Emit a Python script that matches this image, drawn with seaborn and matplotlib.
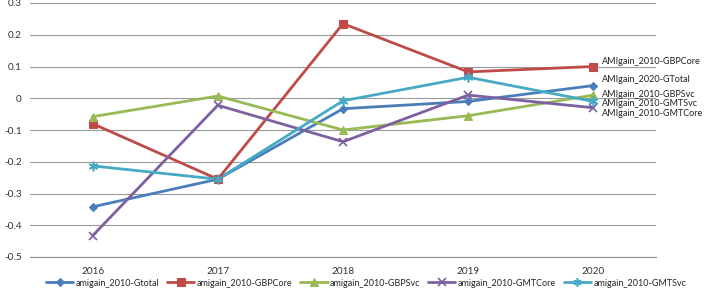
import matplotlib
matplotlib.use("Agg")
import matplotlib.pyplot as plt
import seaborn as sns
import pandas as pd
import numpy as np

years = ["2016", "2017", "2018", "2019", "2020"]
series_names = ["amigain_2010-Gtotal", "amigain_2010-GBPCore", "amigain_2010-GBPSvc",
                "amigain_2010-GMTCore", "amigain_2010-GMTSvc"]
gtotal = [-0.342, -0.255, -0.033, -0.010, 0.040]
gbpcore = [-0.080, -0.255, 0.235, 0.083, 0.100]
gbpsvc = [-0.058, 0.007, -0.100, -0.055, 0.010]
gmtcore = [-0.433, -0.022, -0.137, 0.010, -0.030]
gmtsvc = [-0.213, -0.255, -0.008, 0.066, -0.010]
end_labels = ["AMIgain_2020-GTotal", "AMIgain_2010-GBPCore", "AMIgain_2010-GBPSvc",
              "AMIgain_2010-GMTCore", "AMIgain_2010-GMTSvc"]
y_ticks = [0.3, 0.2, 0.1, 0, -0.1, -0.2, -0.3, -0.4, -0.5]

values = [gtotal, gbpcore, gbpsvc, gmtcore, gmtsvc]
rows = []
for name, vals in zip(series_names, values):
    for i, (yr, v) in enumerate(zip(years, vals)):
        rows.append({"pos": i, "year": yr, "value": v, "series": name})
df = pd.DataFrame(rows)

colors = ["#4A7EBB", "#BE4B48", "#98B954", "#7D60A0", "#46AAC5"]
markers = ["D", "s", "^", "x", (6, 2, 0)]
msizes = [4.5, 6, 6, 6, 7]

sns.set_style("white")
plt.rcParams["font.family"] = ["Lato", "DejaVu Sans"]

fig = plt.figure(figsize=(7.07, 2.97), dpi=100)
ax = fig.add_axes([30 / 707, 40 / 297, 626 / 707, 254 / 297])

palette = dict(zip(series_names, colors))
sns.lineplot(data=df, x="pos", y="value", hue="series", hue_order=series_names,
             palette=palette, linewidth=2, ax=ax, legend=False, sort=False)
for name, c, m, ms in zip(series_names, colors, markers, msizes):
    sub = df[df["series"] == name]
    mew = 1.2 if (m == "x" or isinstance(m, tuple)) else 0.8
    ax.plot(sub["pos"], sub["value"], linestyle="none", marker=m, markersize=ms,
            color=c, markeredgecolor=c, markeredgewidth=mew)

ax.set_xlim(-0.5, 4.5)
ax.set_ylim(-0.5, 0.3)
ax.set_yticks(y_ticks)
ax.set_yticklabels([("%g" % t) for t in y_ticks])
ax.set_xticks(range(len(years)))
ax.set_xticklabels(years)
ax.set_xticks(np.arange(-0.5, 4.6, 1), minor=True)
ax.tick_params(axis="x", which="major", length=0, pad=7, labelsize=7.2, colors="#333333")
ax.tick_params(axis="x", which="minor", length=4, color="#8c8c8c", width=0.8, direction="out")
ax.tick_params(axis="y", length=0, pad=6, labelsize=7.2, colors="#333333")
ax.set_xlabel("")
ax.set_ylabel("")
ax.yaxis.grid(True, color="#9a9a9a", linewidth=0.8)
ax.set_axisbelow(True)
for s in ["left", "right", "top"]:
    ax.spines[s].set_visible(False)
ax.spines["bottom"].set_color("#8c8c8c")
ax.spines["bottom"].set_linewidth(0.8)

label_y = {"AMIgain_2010-GBPCore": 0.117, "AMIgain_2020-GTotal": 0.060,
           "AMIgain_2010-GBPSvc": 0.013, "AMIgain_2010-GMTSvc": -0.016,
           "AMIgain_2010-GMTCore": -0.047}
for lab in end_labels:
    ax.text(4.07, label_y[lab], lab, fontsize=6.5, color="#222222",
            va="center", ha="left", clip_on=False)

handles = [plt.Line2D([0], [0], color=c, linewidth=2, marker=m, markersize=ms * 0.85,
                      markeredgewidth=1.2 if (m == "x" or isinstance(m, tuple)) else 0.8)
           for c, m, ms in zip(colors, markers, msizes)]
fig.legend(handles, series_names, loc="center", bbox_to_anchor=(0.518, 14 / 297),
           ncol=5, frameon=False, fontsize=6.5, handlelength=3.0, handletextpad=0.25,
           columnspacing=0.9)

fig.savefig("out.png", dpi=100)
